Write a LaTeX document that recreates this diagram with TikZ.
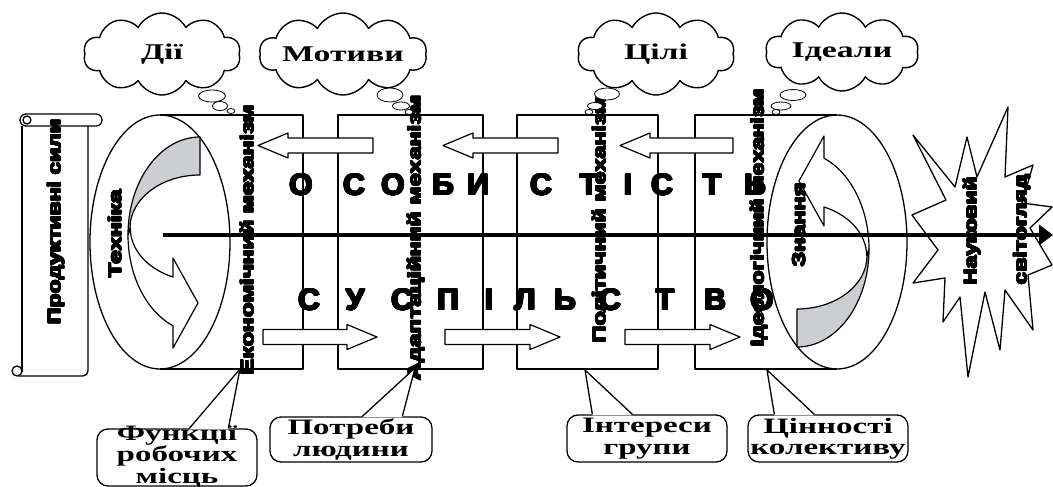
\documentclass[tikz,border=0pt]{standalone}
\usepackage{fontspec}
\usepackage{graphicx}
\usepackage{contour}
\setmainfont{Liberation Serif}
\newfontfamily\heavy{Liberation Sans Bold}
\newfontfamily\lbl[FakeStretch=1.5]{Liberation Serif Bold}
\usetikzlibrary{shapes.symbols,calc,arrows.meta}
\contournumber{16}

% black-weight text: thickened with a contour of its own colour
\newcommand\thick[2]{{\contourlength{#1}\contour{black}{#2}}}
% stretch a heavy text to a given length, keeping its height
\newcommand\fitlen[2]{\resizebox{#1}{\height}{\thick{0.55pt}{#2}}}
% fixed-size text block for the callouts
\newcommand\calltext[3]{\parbox[c][#2][c]{#1}{\centering #3}}

% hollow block arrow pointing left: tip x, tail x, axis y
\newcommand\leftblock[3]{%
  \draw[hollow] (#2,#3-7.5) -- (#1+30,#3-7.5) -- (#1+30,#3-12.5) -- (#1,#3)
    -- (#1+30,#3+12.5) -- (#1+30,#3+7.5) -- (#2,#3+7.5) -- cycle;}
% hollow block arrow pointing right: tail x, tip x, axis y
\newcommand\rightblock[3]{%
  \draw[hollow] (#1,#3-7.5) -- (#2-30,#3-7.5) -- (#2-30,#3-12.5) -- (#2,#3)
    -- (#2-30,#3+12.5) -- (#2-30,#3+7.5) -- (#1,#3+7.5) -- cycle;}
% curved band arrow inside the left end of the cylinder
\newcommand\curvedband{%
  \filldraw[backside] (200,137) arc[start angle=270, end angle=180, x radius=72, y radius=98]
    -- (130,228) arc[start angle=180, end angle=270, x radius=70, y radius=53] -- cycle;
  \filldraw[frontside] (128,235) arc[start angle=180, end angle=112, x radius=72, y radius=98]
    -- (173,348) -- (198,303) -- (173,258) -- (173,277)
    arc[start angle=113, end angle=180, x radius=70, y radius=53] -- cycle;}

\definecolor{bandgrey}{RGB}{205,206,210}

\begin{document}
\begin{tikzpicture}[x=1pt,y=-1pt,line join=round,
  boxline/.style={line width=1.3pt},
  hollow/.style={draw, fill=white, line width=1.2pt},
  backside/.style={draw, fill=bandgrey, line width=1.2pt},
  frontside/.style={draw, fill=white, line width=1.2pt},
  thought/.style={cloud, cloud ignores aspect, draw, fill=white, cloud puffs=10,
    cloud puff arc=125, line width=1.4pt, inner sep=0pt,
    font=\lbl\fontsize{22.5}{22}\selectfont},
  bubble/.style={draw, fill=white, line width=0.8pt},
  callout/.style={draw, fill=white, rounded corners=11pt, line width=1.3pt,
    inner sep=0pt, font=\lbl\fontsize{22}{21.5}\selectfont},
  pointer/.style={line width=1.3pt},
  vtext/.style={rotate=90, inner sep=0pt, font=\heavy\fontsize{18}{18}\selectfont},
  bigletter/.style={anchor=base, inner sep=0pt, font=\heavy\fontsize{30}{30}\selectfont},
  axis/.style={line width=4pt, -{Triangle[length=14pt,width=20pt]}},
]
\useasboundingbox (0,0) rectangle (1053,487);

% scroll on the left
\draw[boxline, rounded corners=6pt] (20,114) rectangle (102,126);
\draw[boxline] (27,120) circle[radius=4];
\draw[boxline] (22,126) -- (22,372);
\draw[boxline, rounded corners=5pt] (88,126) -- (88,376) -- (18,376);
\draw[boxline] (17,371) circle[radius=5];

% the cylinder: four sections
\draw[boxline] (160,115) -- (303,115) -- (303,369) -- (160,369);
\draw[boxline] (338,115) rectangle (483,369);
\draw[boxline] (517,115) rectangle (658,369);
\draw[boxline] (837,115) -- (695,115) -- (695,369) -- (837,369);
\draw[boxline] (160,242) ellipse[x radius=70, y radius=127];
\draw[boxline] (837,242) ellipse[x radius=70, y radius=127];

% turning arrows in both ends
\curvedband
\begin{scope}[rotate around={180:(498.5,242)}]
  \curvedband
\end{scope}

% flows between the sections
\leftblock{258}{373}{145.5}
\leftblock{443}{558}{145.5}
\leftblock{620}{733}{145.5}
\rightblock{263}{377}{337}
\rightblock{445}{560}{337}
\rightblock{625}{740}{337}

% spaced words
\foreach \ch/\x [count=\i] in {О/301,С/354,О/393,Б/443,И/478,С/541,Т/589,І/628,С/662,Т/712,Ь/755}
  \node[bigletter] (top\i) at (\x,195) {\thick{0.9pt}{\ch}};
\foreach \ch/\x [count=\i] in {С/309,У/355,С/402,П/448,І/489,Л/525,Ь/565,С/610,Т/665,В/715,О/762}
  \node[bigletter] (bot\i) at (\x,310) {\thick{0.9pt}{\ch}};

% burst on the right
\filldraw[boxline, fill=white] (913,135) -- (955,187) -- (967,137) -- (977,177) -- (1008,107)
  -- (1005,177) -- (1033,165) -- (1022,203) -- (1052,207) -- (1030,228) -- (1052,265)
  -- (1028,275) -- (1033,330) -- (1005,290) -- (1000,350) -- (985,292) -- (968,377)
  -- (960,297) -- (943,322) -- (945,278) -- (913,283) -- (938,250) -- (912,215)
  -- (946,200) -- cycle;

% main axis
\coordinate (axisstart) at (163,235);
\coordinate (axisend) at (1053,235);
\draw[axis] (axisstart) -- (axisend);

% vertical labels
\node[vtext] (prod)  at (56,222)  {\fitlen{205pt}{Продуктивні сили}};
\node[vtext] (tech)  at (115,234) {\fitlen{88pt}{Техніка}};
\node[vtext] (econ)  at (247,240) {\fitlen{270pt}{Економічний механізм}};
\node[vtext] (adapt) at (416,238) {\fitlen{285pt}{Адаптаційний механізм}};
\node[vtext] (pol)   at (599,220) {\fitlen{246pt}{Політичний механізм}};
\node[vtext] (ideo)  at (759,218) {\fitlen{257pt}{Ідеологічний механізм}};
\node[vtext] (know)  at (799,225) {\fitlen{84pt}{Знання}};
\node[vtext] (sci)   at (972,231) {\fitlen{108pt}{Науковий}};
\node[vtext] (world) at (1022,230) {\fitlen{110pt}{світогляд}};

% thought clouds
\node[thought, minimum width=157pt, minimum height=82pt] (act) at (162,54) {Дії};
\draw[bubble] (212,96) ellipse[x radius=13.5, y radius=6];
\draw[bubble] (220,106) ellipse[x radius=7.5, y radius=4.5];
\draw[bubble] (231,111) ellipse[x radius=4, y radius=2.5];
\node[thought, minimum width=155pt, minimum height=82pt] (mot) at (343,54) {Мотиви};
\draw[bubble] (390,95) ellipse[x radius=13, y radius=7];
\draw[bubble] (401,106) ellipse[x radius=8.5, y radius=4];
\draw[bubble] (409,112) ellipse[x radius=4, y radius=2.5];
\node[thought, minimum width=157pt, minimum height=82pt] (goal) at (656,54) {Цілі};
\draw[bubble] (607,94) ellipse[x radius=12.5, y radius=6];
\draw[bubble] (595,106) ellipse[x radius=7.5, y radius=3.5];
\draw[bubble] (589,112) ellipse[x radius=4, y radius=2.5];
\node[thought, minimum width=153pt, minimum height=78pt] (ideal) at (842,52) {Ідеали};
\draw[bubble] (793,95) ellipse[x radius=13, y radius=5.5];
\draw[bubble] (781,106) ellipse[x radius=10, y radius=4];
\draw[bubble] (776,112) ellipse[x radius=4, y radius=2.5];

% callouts with pointers
\coordinate (tip1) at (240,369);
\coordinate (tip2) at (415,368);
\coordinate (tip3) at (585,370);
\coordinate (tip4) at (767,370);
\node[callout] (func) at (177,457.5) {\calltext{160pt}{57pt}{\vspace*{-3pt}Функції\\робочих\\місць}};
\node[callout] (need) at (351,439.5) {\calltext{162pt}{45pt}{Потреби\\людини}};
\node[callout] (intr) at (647,438.5) {\calltext{160pt}{47pt}{Інтереси\\групи}};
\node[callout] (valu) at (828,438.5) {\calltext{160pt}{47pt}{Цінності\\колективу}};
\foreach \n/\a/\b/\t in {func/93/132/tip1, need/93/133/tip2, intr/26/66/tip3, valu/27/67/tip4}{
  \fill[white] ($(\n.north west)+(\a,1)$) -- (\t) -- ($(\n.north west)+(\b,1)$) -- cycle;
  \draw[pointer] ($(\n.north west)+(\a,0)$) -- (\t) -- ($(\n.north west)+(\b,0)$);
}
\end{tikzpicture}
\end{document}
